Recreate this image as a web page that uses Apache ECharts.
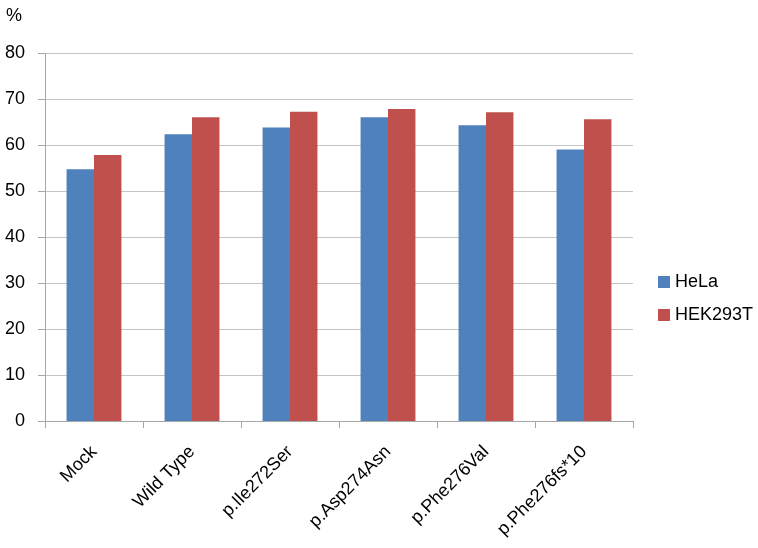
<!DOCTYPE html>
<html>
<head>
<meta charset="utf-8">
<script src="https://cdn.jsdelivr.net/npm/echarts@6/dist/echarts.min.js"></script>
<style>html,body{margin:0;padding:0;background:#fff}#c{width:758px;height:548px}</style>
</head>
<body>
<div id="c"></div>
<script>
var categories = ['Mock', 'Wild Type', 'p.Ile272Ser', 'p.Asp274Asn', 'p.Phe276Val', 'p.Phe276fs*10'];
var helaValues = [54.8, 62.4, 63.9, 66.1, 64.4, 59.1];
var hek293tValues = [57.9, 66.1, 67.3, 67.9, 67.2, 65.7];
var yTicks = { min: 0, max: 80, interval: 10 };

var font = 'Liberation Sans, Arial, sans-serif';
var chart = echarts.init(document.getElementById('c'), null, { renderer: 'canvas' });
chart.setOption({
  animation: false,
  backgroundColor: '#ffffff',
  textStyle: { fontFamily: font, color: '#000' },
  title: {
    text: '%', left: 1, top: 2,
    textStyle: { fontFamily: font, fontSize: 18, fontWeight: 'normal', color: '#000' }
  },
  grid: { left: 45, right: 125, top: 53.5, bottom: 127, containLabel: false },
  legend: {
    orient: 'vertical', left: 653, top: 268,
    itemWidth: 12, itemHeight: 12, itemGap: 15,
    icon: 'rect',
    textStyle: { fontFamily: font, fontSize: 18, color: '#000' },
    data: ['HeLa', 'HEK293T']
  },
  xAxis: {
    type: 'category',
    data: categories,
    axisLine: { lineStyle: { color: '#a6a6a6', width: 1 } },
    axisTick: { show: true, length: 7, alignWithLabel: false, lineStyle: { color: '#a6a6a6' } },
    axisLabel: { rotate: 45, margin: 28, fontSize: 18, color: '#000', fontFamily: font, interval: 0 }
  },
  yAxis: {
    type: 'value',
    min: yTicks.min, max: yTicks.max, interval: yTicks.interval,
    axisLine: { show: true, lineStyle: { color: '#a6a6a6', width: 1 } },
    axisTick: { show: true, length: 7, lineStyle: { color: '#a6a6a6' } },
    axisLabel: { margin: 20, fontSize: 18, color: '#000', fontFamily: font },
    splitLine: { lineStyle: { color: '#c4c4c4', width: 1 } }
  },
  series: [
    { name: 'HeLa', type: 'bar', data: helaValues, barGap: '0%', barCategoryGap: '44%',
      itemStyle: { color: '#4F81BD' } },
    { name: 'HEK293T', type: 'bar', data: hek293tValues, barGap: '0%', barCategoryGap: '44%',
      itemStyle: { color: '#C0504D' } }
  ]
});
</script>
</body>
</html>
